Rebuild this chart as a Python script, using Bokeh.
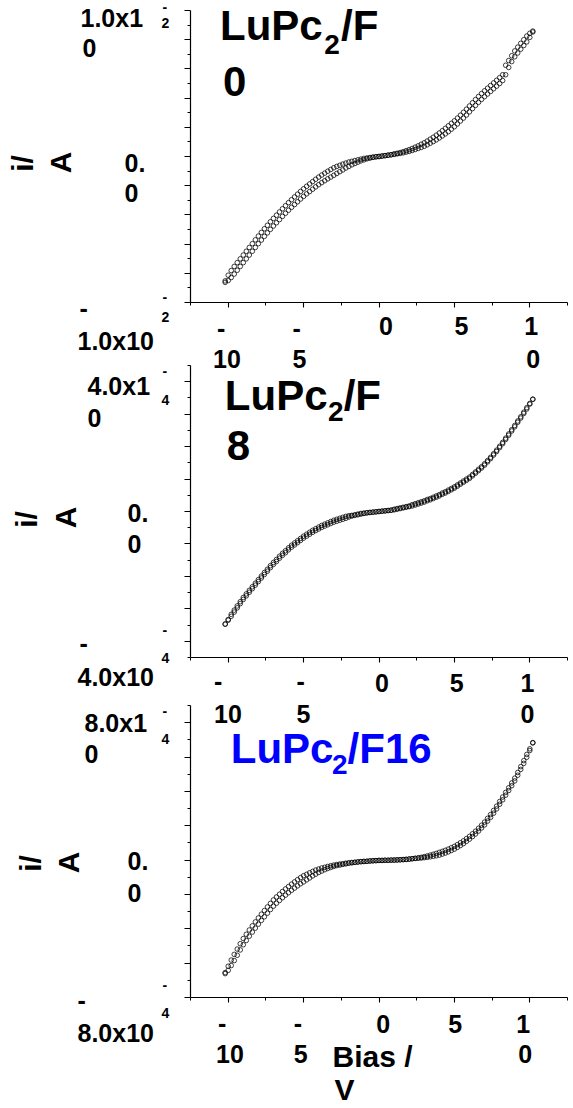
import math
from bokeh.plotting import figure
from bokeh.layouts import column, row
from bokeh.models import (ColumnDataSource, FixedTicker, Label, Range1d,
                          CustomLabelingPolicy, CustomJSTickFormatter)
from bokeh.embed import file_html
from bokeh.resources import INLINE

# ---------------------------------------------------------------------------
# Bias sweep (V), shared by the three samples
bias_v = [-10.2, -10.0, -9.8, -9.6, -9.4, -9.2, -9.0, -8.8, -8.6, -8.4, -8.2,
          -8.0, -7.8, -7.6, -7.4, -7.2, -7.0, -6.8, -6.6, -6.4, -6.2, -6.0,
          -5.8, -5.6, -5.4, -5.2, -5.0, -4.8, -4.6, -4.4, -4.2, -4.0, -3.8,
          -3.6, -3.4, -3.2, -3.0, -2.8, -2.6, -2.4, -2.2, -2.0, -1.8, -1.6,
          -1.4, -1.2, -1.0, -0.8, -0.6, -0.4, -0.2, 0.0, 0.2, 0.4, 0.6, 0.8,
          1.0, 1.2, 1.4, 1.6, 1.8, 2.0, 2.2, 2.4, 2.6, 2.8, 3.0, 3.2, 3.4, 3.6,
          3.8, 4.0, 4.2, 4.4, 4.6, 4.8, 5.0, 5.2, 5.4, 5.6, 5.8, 6.0, 6.2, 6.4,
          6.6, 6.8, 7.0, 7.2, 7.4, 7.6, 7.8, 8.0, 8.2, 8.4, 8.6, 8.8, 9.0, 9.2,
          9.4, 9.6, 9.8, 10.0, 10.2]

# LuPc2/F0 current, mA (two sweep directions)
f0_fwd_mA = [-8.52, -8.13, -7.81, -7.53, -7.27, -7.01, -6.75, -6.49, -6.23, -5.97,
             -5.71, -5.45, -5.20, -4.95, -4.71, -4.47, -4.24, -4.02, -3.80, -3.58,
             -3.37, -3.16, -2.96, -2.77, -2.58, -2.39, -2.21, -2.04, -1.88, -1.72,
             -1.56, -1.41, -1.27, -1.14, -1.01, -0.89, -0.77, -0.68, -0.60, -0.52,
             -0.45, -0.38, -0.33, -0.28, -0.23, -0.18, -0.13, -0.10, -0.07, -0.04,
             -0.02,
             0.00, 0.03, 0.06, 0.09, 0.12, 0.18, 0.22, 0.27, 0.33, 0.40, 0.47,
             0.55, 0.64, 0.73, 0.84, 0.94, 1.06, 1.19, 1.32, 1.46, 1.61,
             1.77, 1.93, 2.10, 2.27, 2.44, 2.63, 2.83, 3.03, 3.24, 3.46,
             3.68, 3.90, 4.11, 4.31, 4.50, 4.68, 4.86, 5.04, 5.22, 5.40,
             5.60, 6.25, 6.57, 6.90, 7.23, 7.49, 7.75, 8.00, 8.25, 8.44, 8.59]
f0_rev_mA = [-8.62, -8.49, -8.29, -8.05, -7.79, -7.53, -7.27, -7.01, -6.75, -6.49,
             -6.23, -5.97, -5.72, -5.47, -5.23, -4.99, -4.76, -4.54, -4.32, -4.10,
             -3.89, -3.68, -3.48, -3.29, -3.10, -2.91, -2.73, -2.56, -2.40, -2.24,
             -2.08, -1.93, -1.79, -1.66, -1.53, -1.41, -1.29, -1.16, -1.04, -0.92,
             -0.79, -0.68, -0.57, -0.48, -0.39, -0.30, -0.23, -0.16, -0.11, -0.06,
             -0.02,
             0.00, 0.03, 0.06, 0.09, 0.12, 0.14, 0.18, 0.21, 0.25, 0.30, 0.35,
             0.41, 0.48, 0.55, 0.62, 0.70, 0.80, 0.91, 1.02, 1.14, 1.27,
             1.41, 1.55, 1.70, 1.87, 2.04, 2.23, 2.43, 2.63, 2.84, 3.06,
             3.28, 3.50, 3.71, 3.91, 4.10, 4.28, 4.46, 4.64, 4.82, 5.00,
             5.20, 5.60, 6.10, 6.50, 6.83, 7.09, 7.35, 7.60, 7.85, 8.16, 8.53]

# LuPc2/F8 current, units of 1e-4 A
f8_fwd_e4 = [-3.47, -3.33, -3.17, -3.04, -2.91, -2.78, -2.65, -2.54, -2.43, -2.32,
             -2.21, -2.10, -1.99, -1.88, -1.78, -1.67, -1.57, -1.48, -1.38, -1.29,
             -1.21, -1.12, -1.04, -0.97, -0.90, -0.83, -0.76, -0.70, -0.64, -0.58,
             -0.53, -0.48, -0.43, -0.39, -0.35, -0.31, -0.27, -0.24, -0.21, -0.18,
             -0.15, -0.13, -0.12, -0.10, -0.08, -0.06, -0.05, -0.04, -0.03, -0.02,
             -0.01,
             0.00, 0.01, 0.02, 0.03, 0.04, 0.07, 0.09, 0.11, 0.13, 0.15, 0.17,
             0.21, 0.24, 0.27, 0.30, 0.33, 0.37, 0.40, 0.44, 0.48, 0.52,
             0.57, 0.61, 0.66, 0.71, 0.76, 0.82, 0.88, 0.94, 1.00, 1.06,
             1.14, 1.22, 1.30, 1.38, 1.47, 1.57, 1.67, 1.78, 1.89, 2.01,
             2.13, 2.26, 2.39, 2.52, 2.65, 2.79, 2.92, 3.06, 3.20, 3.33, 3.46]
f8_rev_e4 = [-3.47, -3.35, -3.23, -3.10, -2.97, -2.84, -2.71, -2.60, -2.49, -2.38,
             -2.27, -2.16, -2.05, -1.94, -1.84, -1.73, -1.63, -1.54, -1.44, -1.35,
             -1.27, -1.18, -1.10, -1.03, -0.96, -0.89, -0.82, -0.76, -0.70, -0.64,
             -0.59, -0.54, -0.49, -0.45, -0.41, -0.37, -0.33, -0.30, -0.27, -0.24,
             -0.21, -0.17, -0.14, -0.12, -0.10, -0.08, -0.06, -0.04, -0.03, -0.02,
             -0.01,
             0.00, 0.01, 0.02, 0.03, 0.04, 0.05, 0.07, 0.09, 0.11, 0.13, 0.15,
             0.17, 0.20, 0.23, 0.26, 0.29, 0.33, 0.36, 0.40, 0.44, 0.48,
             0.53, 0.57, 0.62, 0.67, 0.72, 0.78, 0.84, 0.90, 0.96, 1.02,
             1.10, 1.18, 1.26, 1.34, 1.43, 1.53, 1.63, 1.74, 1.85, 1.97,
             2.09, 2.22, 2.35, 2.48, 2.61, 2.75, 2.88, 3.02, 3.16, 3.31, 3.46]

# LuPc2/F16 current, units of 1e-4 A
f16_fwd_e4 = [-6.55, -6.18, -5.82, -5.49, -5.18, -4.87, -4.57, -4.32, -4.07, -3.83,
              -3.60, -3.37, -3.15, -2.94, -2.73, -2.52, -2.32, -2.15, -1.99, -1.83,
              -1.68, -1.54, -1.40, -1.27, -1.14, -1.02, -0.91, -0.83, -0.74, -0.66,
              -0.58, -0.52, -0.46, -0.42, -0.37, -0.33, -0.29, -0.26, -0.23, -0.21,
              -0.18, -0.16, -0.14, -0.13, -0.11, -0.09, -0.08, -0.07, -0.05, -0.04,
              -0.03,
              -0.02, -0.02, -0.01, -0.01, 0.00, 0.00, 0.01, 0.02, 0.03, 0.04, 0.06,
              0.08, 0.10, 0.13, 0.16, 0.20, 0.24, 0.29, 0.34, 0.39, 0.45,
              0.51, 0.57, 0.64, 0.72, 0.80, 0.90, 1.01, 1.12, 1.25, 1.38,
              1.53, 1.68, 1.85, 2.03, 2.21, 2.43, 2.65, 2.89, 3.14, 3.41,
              3.67, 3.94, 4.21, 4.49, 4.77, 5.10, 5.44, 5.79, 6.15, 6.48, 6.84]
f16_rev_e4 = [-6.61, -6.42, -6.14, -5.85, -5.54, -5.23, -4.93, -4.68, -4.43, -4.19,
              -3.96, -3.73, -3.51, -3.30, -3.09, -2.88, -2.68, -2.51, -2.35, -2.19,
              -2.04, -1.90, -1.76, -1.63, -1.50, -1.38, -1.27, -1.15, -1.04, -0.92,
              -0.82, -0.72, -0.64, -0.56, -0.49, -0.43, -0.37, -0.32, -0.29, -0.25,
              -0.22, -0.18, -0.16, -0.13, -0.11, -0.09, -0.08, -0.07, -0.05, -0.04,
              -0.03,
              -0.02, -0.02, -0.01, -0.01, 0.00, 0.00, 0.01, 0.02, 0.03, 0.04, 0.06,
              0.08, 0.10, 0.11, 0.12, 0.14, 0.16, 0.19, 0.22, 0.25, 0.29,
              0.35, 0.41, 0.48, 0.56, 0.64, 0.74, 0.85, 0.96, 1.09, 1.22,
              1.37, 1.52, 1.69, 1.87, 2.05, 2.27, 2.49, 2.73, 2.98, 3.25,
              3.51, 3.78, 4.05, 4.33, 4.61, 4.94, 5.28, 5.63, 5.99, 6.38, 6.82]

for _name, _arr in [("f0_fwd_mA", f0_fwd_mA), ("f0_rev_mA", f0_rev_mA),
                    ("f8_fwd_e4", f8_fwd_e4), ("f8_rev_e4", f8_rev_e4),
                    ("f16_fwd_e4", f16_fwd_e4), ("f16_rev_e4", f16_rev_e4)]:
    if len(_arr) != len(bias_v):
        raise ValueError(f"{_name}: {len(_arr)} values, expected {len(bias_v)}")

# Axis ticks
x_major = [-10, -5, 0, 5, 10]
x_minor = [-12.5, -7.5, -2.5, 2.5, 7.5, 12.5]

f0_y_major = [-1.0e-2, -8e-3, -6e-3, -4e-3, -2e-3, 0.0, 2e-3, 4e-3, 6e-3, 8e-3, 1.0e-2]
f0_y_minor = [-9e-3, -7e-3, -5e-3, -3e-3, -1e-3, 1e-3, 3e-3, 5e-3, 7e-3, 9e-3]
f8_y_major = [-4e-4, -3e-4, -2e-4, -1e-4, 0.0, 1e-4, 2e-4, 3e-4, 4e-4]
f8_y_minor = [-4.5e-4, -3.5e-4, -2.5e-4, -1.5e-4, -0.5e-4, 0.5e-4, 1.5e-4, 2.5e-4,
              3.5e-4, 4.5e-4]
f16_y_major = [-8e-4, -6e-4, -4e-4, -2e-4, 0.0, 2e-4, 4e-4, 6e-4, 8e-4]
f16_y_minor = [-7e-4, -5e-4, -3e-4, -1e-4, 1e-4, 3e-4, 5e-4, 7e-4, 9e-4]

FONT = "Liberation Sans"
PAGE_W, PAGE_H = 573, 1108
LEFT_COL = 175              # width of the column holding the y tick labels
RIGHT_W = PAGE_W - LEFT_COL
X_LO, X_HI = -12.5, 12.5
AXIS_H = 292                # drawn length of each y axis, px
BOTTOM_PAD = 8

TICK, SUP, TITLE, SUB, AXT = 25, 14, 42, 28, 30
UP = math.pi / 2
# Label anchors sit this fraction of the font size above the drawn baseline
BASE_SHIFT = 0.4


def make_label(s, x, y, size, color, angle, align):
    return Label(x=x, y=y, x_units="data", y_units="data", text=s,
                 text_font=FONT, text_font_size=f"{size}px",
                 text_font_style="bold", text_color=color,
                 text_align=align, text_baseline="alphabetic", angle=angle)


def anchor(px, py, size, angle):
    """Page position of the text baseline -> anchor handed to the Label."""
    d = BASE_SHIFT * size
    if angle:
        return px - d, py
    return px, py - d


class TextArea:
    """Blank canvas (no axes) whose data coordinates are page pixels."""

    def __init__(self, page_left, page_top, width, height):
        self.page_left, self.page_top = page_left, page_top
        p = figure(width=width, height=height, x_range=Range1d(0, width),
                   y_range=Range1d(height, 0), output_backend="svg",
                   toolbar_location=None, tools="", min_border=0,
                   x_axis_type=None, y_axis_type=None)
        p.outline_line_color = None
        p.grid.visible = False
        self.p = p

    def text(self, s, px, py, size, color="black", angle=0.0, align="left"):
        ax, ay = anchor(px, py, size, angle)
        self.p.add_layout(make_label(s, ax - self.page_left, ay - self.page_top,
                                     size, color, angle, align))


class Panel:
    """One I-V plot. The frame reaches up to the top of the figure so that
    the bias labels of the panel above can be set inside it; the y axis is
    bounded to the panel's own current range."""

    def __init__(self, fig_top, axis_top, axis_left, frame_w, y_lo, y_hi,
                 y_major, y_minor, amps_fwd, amps_rev):
        self.axis_top = axis_top
        self.axis_left = axis_left
        self.frame_w = frame_w
        self.y_lo, self.y_hi = y_lo, y_hi
        per_px = (y_hi - y_lo) / AXIS_H
        frame_h = axis_top + AXIS_H - fig_top
        border_left = axis_left - LEFT_COL
        p = figure(width=RIGHT_W, height=frame_h + BOTTOM_PAD,
                   x_range=Range1d(X_LO, X_HI),
                   y_range=Range1d(y_lo, y_hi + (axis_top - fig_top) * per_px),
                   output_backend="svg", toolbar_location=None, tools="",
                   min_border_left=border_left,
                   min_border_right=RIGHT_W - border_left - frame_w,
                   min_border_top=0, min_border_bottom=BOTTOM_PAD)
        p.outline_line_color = None
        p.grid.visible = False

        p.xaxis.ticker = FixedTicker(ticks=x_major, minor_ticks=x_minor)
        p.yaxis.ticker = FixedTicker(ticks=y_major, minor_ticks=y_minor)
        p.yaxis.bounds = (y_lo, y_hi)
        for ax, maj, mnr in ((p.xaxis, 5, 3), (p.yaxis, 6, 3)):
            # tick labels are set as wrapped text pieces around the axes
            ax.formatter = CustomJSTickFormatter(code="return ''")
            ax.major_label_policy = CustomLabelingPolicy(code="return []")
            ax.major_label_text_font_size = "1px"
            ax.major_label_standoff = 0
            ax.axis_line_color = "black"
            ax.axis_line_width = 1.2
            ax.major_tick_line_color = "black"
            ax.minor_tick_line_color = "black"
            ax.major_tick_line_width = 1.1
            ax.minor_tick_line_width = 1.0
            ax.major_tick_in = 0
            ax.minor_tick_in = 0
            ax.major_tick_out = maj
            ax.minor_tick_out = mnr

        for vals in (amps_fwd, amps_rev):
            src = ColumnDataSource(dict(v=bias_v, i=vals))
            p.scatter("v", "i", source=src, marker="circle", size=4.6,
                      fill_color=None, line_color="black", line_width=0.75)
        self.p = p

    def text(self, s, px, py, size, color="black", angle=0.0, align="left"):
        px, py = anchor(px, py, size, angle)
        x = X_LO + (px - self.axis_left) / self.frame_w * (X_HI - X_LO)
        y = self.y_hi - (py - self.axis_top) / AXIS_H * (self.y_hi - self.y_lo)
        self.p.add_layout(make_label(s, x, y, size, color, angle, align))


# Right column: three plots and the bias-label strip under the last one
f0 = Panel(0, 10, 190, 383, -1.0e-2, 1.0e-2, f0_y_major, f0_y_minor,
           [v * 1e-3 for v in f0_fwd_mA], [v * 1e-3 for v in f0_rev_mA])
f8 = Panel(310, 365, 187, 384, -4.5e-4, 4.5e-4, f8_y_major, f8_y_minor,
           [v * 1e-4 for v in f8_fwd_e4], [v * 1e-4 for v in f8_rev_e4])
f16 = Panel(665, 705, 183, 384, -8e-4, 9e-4, f16_y_major, f16_y_minor,
            [v * 1e-4 for v in f16_fwd_e4], [v * 1e-4 for v in f16_rev_e4])
x16 = TextArea(LEFT_COL, 1005, RIGHT_W, PAGE_H - 1005)

# Left column: y tick labels and y axis titles of all three panels
ylab = TextArea(0, 0, LEFT_COL, PAGE_H)

# --- LuPc2/F0 -------------------------------------------------------------
for s, x, y, sz in [("1.0x1", 80, 27, TICK), ("0", 82, 57, TICK),
                    ("-", 162, 12, SUP), ("2", 161, 28, SUP),
                    ("0.", 124, 172, TICK), ("0", 124, 202, TICK),
                    ("-", 79, 317, TICK), ("1.0x10", 77, 350, TICK),
                    ("-", 162, 302, SUP), ("2", 161, 322, SUP)]:
    ylab.text(s, x, y, sz)
ylab.text("i/", 34, 163, AXT, angle=UP, align="center")
ylab.text("A", 72, 162, AXT, angle=UP, align="center")
# F0 bias labels, set in the top margin of the F8 plot
for s, x, y in [("-", 214, 337), ("10", 210, 368), ("-", 291, 337), ("5", 291, 368),
                ("0", 379, 335), ("5", 456, 335), ("1", 527, 335), ("0", 529, 368)]:
    f8.text(s, x, y, TICK)
for s, x, y, sz in [("LuPc", 220, 42, TITLE), ("2", 326, 55, SUB),
                    ("/F", 343, 42, TITLE), ("0", 223, 98, TITLE)]:
    f0.text(s, x, y, sz)

# --- LuPc2/F8 -------------------------------------------------------------
for s, x, y, sz in [("-", 162, 376, SUP), ("4.0x1", 87, 395, TICK),
                    ("4", 161, 405, SUP), ("0", 87, 427, TICK),
                    ("0.", 127, 522, TICK), ("0", 127, 553, TICK),
                    ("-", 162, 635, SUP), ("-", 79, 652, TICK),
                    ("4", 161, 663, SUP), ("4.0x10", 77, 686, TICK)]:
    ylab.text(s, x, y, sz)
ylab.text("i/", 38, 519, AXT, angle=UP, align="center")
ylab.text("A", 77, 517, AXT, angle=UP, align="center")
# F8 bias labels, set in the top margin of the F16 plot
for s, x, y in [("-", 207, 690), ("10", 207, 723), ("-", 291, 690), ("5", 291, 723),
                ("0", 371, 692), ("5", 447, 692), ("1", 519, 692), ("0", 519, 723)]:
    f16.text(s, x, y, TICK)
for s, x, y, sz in [("LuPc", 222, 412, TITLE), ("2", 327, 422, SUB),
                    ("/F", 343, 412, TITLE), ("8", 224, 462, TITLE)]:
    f8.text(s, x, y, sz)

# --- LuPc2/F16 ------------------------------------------------------------
for s, x, y, sz in [("-", 162, 716, SUP), ("8.0x1", 84, 732, TICK),
                    ("4", 161, 744, SUP), ("0", 84, 763, TICK),
                    ("0.", 127, 870, TICK), ("0", 127, 902, TICK),
                    ("-", 162, 990, SUP), ("-", 77, 1009, TICK),
                    ("4", 161, 1018, SUP), ("8.0x10", 77, 1042, TICK)]:
    ylab.text(s, x, y, sz)
ylab.text("i/", 42, 863, AXT, angle=UP, align="center")
ylab.text("A", 80, 862, AXT, angle=UP, align="center")
for s, x, y, sz in [("-", 204, 1032, TICK), ("10", 202, 1063, TICK),
                    ("-", 284, 1032, TICK), ("5", 284, 1063, TICK),
                    ("0", 371, 1033, TICK), ("5", 447, 1033, TICK),
                    ("1", 519, 1033, TICK), ("0", 521, 1063, TICK),
                    ("Bias /", 325, 1068, AXT), ("V", 327, 1101, AXT)]:
    x16.text(s, x, y, sz)
for s, x, y, sz in [("LuPc", 224, 765, TITLE), ("2", 327, 775, SUB),
                    ("/F16", 343, 765, TITLE)]:
    f16.text(s, x, y, sz, color="#0000FF")

right = column(f0.p, f8.p, f16.p, x16.p, spacing=0)
layout = row(ylab.p, right, spacing=0)
open("out.html", "w").write(file_html(layout, INLINE))
